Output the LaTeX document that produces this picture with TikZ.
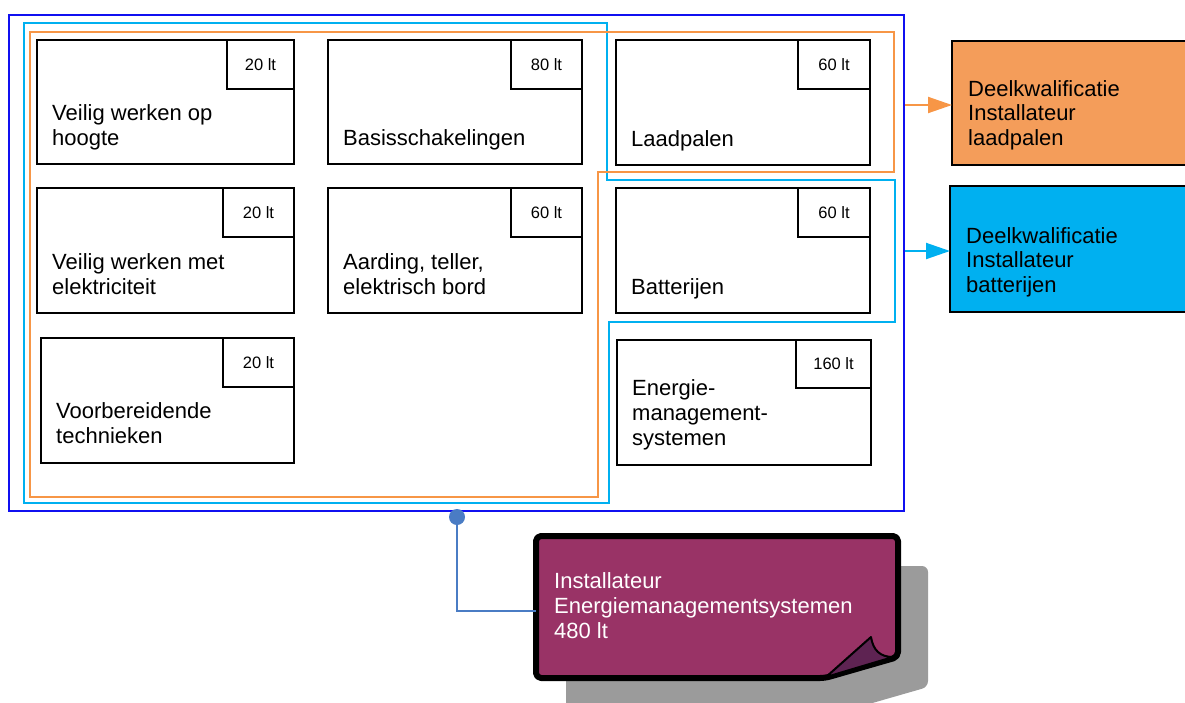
\documentclass[tikz,border=0pt]{standalone}
\usepackage{fontspec}
\setmainfont{Liberation Sans}
\usetikzlibrary{arrows.meta}
\definecolor{outerblue}{HTML}{1010F0}
\definecolor{cyanline}{HTML}{00B0F0}
\definecolor{orangeline}{HTML}{F79646}
\definecolor{orangefill}{HTML}{F49D5A}
\definecolor{cyanfill}{HTML}{00B0F0}
\definecolor{notefill}{HTML}{993366}
\definecolor{curlfill}{HTML}{5E2352}
\definecolor{shadowgray}{HTML}{9B9B9B}
\definecolor{connblue}{HTML}{4A7CC4}
\newcommand{\mlines}[1]{\begin{tabular}[b]{@{}l@{}}#1\end{tabular}}
\begin{document}
\begin{tikzpicture}[x=1pt,y=-1pt,
  modbox/.style={draw=black, line width=2pt, inner sep=0pt, outer sep=0pt, minimum width=254pt, minimum height=125pt, anchor=north west},
  hrsbox/.style={draw=black, line width=2pt, inner sep=0pt, outer sep=0pt, minimum width=71pt, minimum height=49pt, anchor=north east, font=\fontsize{16.5}{18}\selectfont},
  modtext/.style={anchor=base west, inner sep=0pt, font=\fontsize{22}{25}\selectfont, xshift=15pt, yshift=19pt},
  dkbox/.style={draw=black, line width=2pt, inner sep=0pt, outer sep=0pt, minimum width=260pt, minimum height=125pt, anchor=north west},
  dktext/.style={anchor=base west, inner sep=0pt, font=\fontsize{22}{24.5}\selectfont, xshift=16pt, yshift=20pt},
  groupline/.style={line width=2pt, line join=miter},
  dkarrow/.style={line width=2pt, -{Triangle[length=24pt,width=16pt]}}
]
\useasboundingbox (0,0) rectangle (1185,702);
\clip (0,0) rectangle (1185,702);

% outer frame
\node[draw=outerblue, line width=2pt, inner sep=0pt, outer sep=0pt, anchor=north west,
      minimum width=895pt, minimum height=496pt] (outer) at (9,15) {};

% group outlines
\draw[groupline, cyanline] (24,23) -- (607,23) -- (607,180) -- (895,180) -- (895,322) -- (609,322) -- (609,503) -- (24,503) -- cycle;
\draw[groupline, orangeline] (30,32) -- (894,32) -- (894,172) -- (598,172) -- (598,497) -- (30,497) -- cycle;

% modules
\node[modbox, minimum width=257pt, minimum height=124pt] (m1) at (37,40) {};
\node[hrsbox, minimum width=67pt] (h1) at (m1.north east) {20 lt};
\node[modtext] (t1) at (m1.south west) {\mlines{Veilig werken op\\hoogte}};

\node[modbox, minimum height=124pt] (m2) at (328,40) {};
\node[hrsbox] (h2) at (m2.north east) {80 lt};
\node[modtext] (t2) at (m2.south west) {\mlines{Basisschakelingen}};

\node[modbox] (m3) at (616,40) {};
\node[hrsbox, minimum width=72pt] (h3) at (m3.north east) {60 lt};
\node[modtext] (t3) at (m3.south west) {\mlines{Laadpalen}};

\node[modbox, minimum width=257pt] (m4) at (37,188) {};
\node[hrsbox] (h4) at (m4.north east) {20 lt};
\node[modtext] (t4) at (m4.south west) {\mlines{Veilig werken met\\elektriciteit}};

\node[modbox] (m5) at (328,188) {};
\node[hrsbox] (h5) at (m5.north east) {60 lt};
\node[modtext] (t5) at (m5.south west) {\mlines{Aarding, teller,\\elektrisch bord}};

\node[modbox] (m6) at (616,188) {};
\node[hrsbox, minimum width=72pt] (h6) at (m6.north east) {60 lt};
\node[modtext] (t6) at (m6.south west) {\mlines{Batterijen}};

\node[modbox, minimum width=253pt] (m7) at (41,338) {};
\node[hrsbox] (h7) at (m7.north east) {20 lt};
\node[modtext, yshift=1pt] (t7) at (m7.south west) {\mlines{Voorbereidende\\technieken}};

\node[modbox] (m8) at (617,340) {};
\node[hrsbox, minimum width=75pt, minimum height=48pt] (h8) at (m8.north east) {160 lt};
\node[modtext, yshift=1pt] (t8) at (m8.south west) {\mlines{Energie-\\management-\\systemen}};

% partial qualifications
\node[dkbox, fill=orangefill, minimum height=124pt] (dk1) at (952,41) {};
\node[dktext] (dt1) at (dk1.south west) {\mlines{Deelkwalificatie\\Installateur\\laadpalen}};
\node[dkbox, fill=cyanfill, minimum height=126pt] (dk2) at (950,186) {};
\node[dktext] (dt2) at (dk2.south west) {\mlines{Deelkwalificatie\\Installateur\\batterijen}};

\coordinate (ao) at (905,105);
\coordinate (ab) at (905,251);
\draw[dkarrow, orangeline] (ao) -- (ao -| dk1.west);
\draw[dkarrow, cyanline] (ab) -- (ab -| dk2.west);

% note with shadow and curl
\fill[shadowgray, rounded corners=6pt] (566,566) -- (928,566) -- (928,687) -- (855,708) -- (566,708) -- cycle;
\draw[fill=notefill, line width=6pt, rounded corners=5pt, line join=round] (536,536) -- (898,536) -- (898,657) -- (825,678) -- (536,678) -- cycle;
\filldraw[fill=curlfill, draw=black, line width=2pt, line join=round] (826,677) -- (871,637) .. controls (873,650) and (880,657) .. (893,657) -- cycle;
\node[inner sep=0pt, outer sep=0pt, anchor=north west, minimum width=362pt, minimum height=142pt] (note) at (536,536) {};
\node[anchor=base west, inner sep=0pt, text=white, font=\fontsize{22}{25}\selectfont] (nt) at (554,638)
  {\mlines{Installateur\\Energiemanagementsystemen\\480 lt}};

% connector
\node[circle, fill=connblue, inner sep=0pt, minimum size=16pt] (dot) at (457,517) {};
\draw[connblue, line width=2pt] (dot.center) |- ([yshift=-4pt]note.west);
\end{tikzpicture}
\end{document}
